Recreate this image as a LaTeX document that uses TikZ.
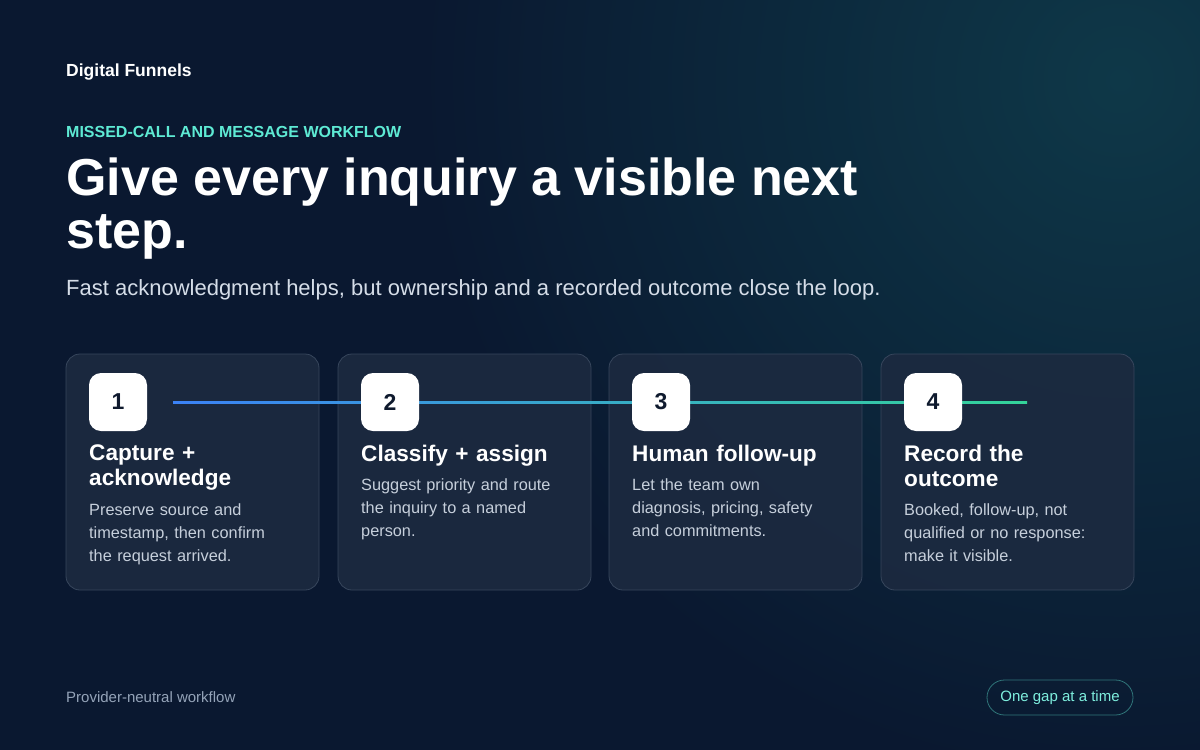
\documentclass[tikz,border=0pt]{standalone}
\usepackage{fontspec}
\setmainfont{Liberation Sans}
\begin{document}
\definecolor{bgA}{HTML}{0A1830}
\definecolor{bgB}{HTML}{0E3848}
\definecolor{card}{HTML}{1C2A40}
\definecolor{cardline}{HTML}{37465C}
\definecolor{teal}{HTML}{5EEAD4}
\definecolor{sub}{HTML}{D5DDE8}
\definecolor{body}{HTML}{C6CFDB}
\definecolor{foot}{HTML}{94A3B8}
\definecolor{numc}{HTML}{0F1A2E}
\definecolor{lnA}{HTML}{3B82F6}
\definecolor{lnB}{HTML}{34D399}
\begin{tikzpicture}[x=1pt,y=-1pt,
  card/.style={draw=cardline,line width=0.8pt,fill=card,fill opacity=0.9,rounded corners=14pt},
  num/.style={fill=white,rounded corners=12pt,minimum width=58pt,minimum height=58pt,inner sep=0pt,font=\bfseries\fontsize{23}{23}\selectfont,text=numc},
  ttl/.style={anchor=north west,inner sep=0pt,text=white,font=\bfseries\fontsize{22.6}{25}\selectfont,align=left,text width=225pt},
  bd/.style={anchor=north west,inner sep=0pt,text=body,font=\fontsize{16.3}{23}\selectfont,align=left,text width=225pt}]
\useasboundingbox (0,0) rectangle (1200,750);
\fill[bgA] (0,0) rectangle (1200,750);
\begin{scope}
\clip (0,0) rectangle (1200,750);
\shade[inner color=bgB,outer color=bgA] (1120,80) circle (700);
\end{scope}
\node[anchor=west,inner sep=0pt,text=white,font=\bfseries\fontsize{17.5}{17}\selectfont] (brand) at (66,72) {Digital Funnels};
\node[anchor=west,inner sep=0pt,text=teal,font=\bfseries\fontsize{16}{16}\selectfont] (eyebrow) at (66,132) {MISSED-CALL AND MESSAGE WORKFLOW};
\node[anchor=north west,inner sep=0pt,text=white,font=\bfseries\fontsize{52}{53}\selectfont,align=left] (head) at (66,158) {Give every inquiry a visible next\\step.};
\node[anchor=west,inner sep=0pt,text=sub,font=\fontsize{22}{22}\selectfont] (subt) at (66,290) {Fast acknowledgment helps, but ownership and a recorded outcome close the loop.};
\foreach \i/\x in {1/66,2/338,3/609,4/881}{
  \draw[card] (\x,354) rectangle ++(253,236);
}
\coordinate (ls) at (173,402);
\coordinate (le) at (1027,402);
\shade[left color=lnA,right color=lnB] (173,401) rectangle (1027,403);
\foreach \i/\x in {1/66,2/338,3/609,4/881}{
  \node[num] (n\i) at (\x+52,402) {\i};
}
\node[ttl] (t1) at (89,445) {Capture +\\acknowledge};
\node[bd] (b1) at (89,503) {Preserve source and\\timestamp, then confirm\\the request arrived.};
\node[ttl] (t2) at (361,445) {Classify + assign};
\node[bd] (b2) at (361,478) {Suggest priority and route\\the inquiry to a named\\person.};
\node[ttl] (t3) at (632,445) {Human follow-up};
\node[bd] (b3) at (632,478) {Let the team own\\diagnosis, pricing, safety\\and commitments.};
\node[ttl] (t4) at (904,445) {Record the\\outcome};
\node[bd] (b4) at (904,503) {Booked, follow-up, not\\qualified or no response:\\make it visible.};
\node[anchor=west,inner sep=0pt,text=foot,font=\fontsize{15}{15}\selectfont] (footl) at (66,697) {Provider-neutral workflow};
\node[draw=teal!45!bgA,line width=0.8pt,rounded corners=17.5pt,minimum width=146pt,minimum height=35pt,text=teal!80!white,font=\fontsize{15}{15}\selectfont] (pill) at (1060,697.5) {One gap at a time};
\end{tikzpicture}
\end{document}
